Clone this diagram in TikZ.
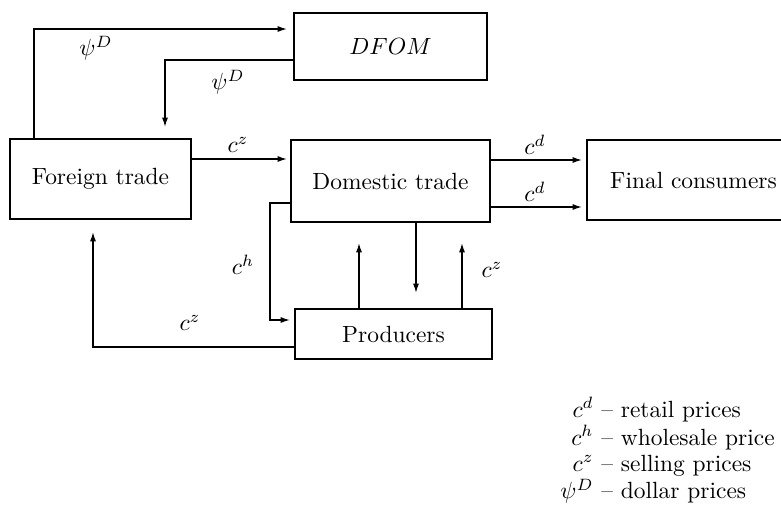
\documentclass[tikz,border=0pt]{standalone}
\usepackage{amsmath,amssymb}
\usetikzlibrary{arrows.meta,positioning,calc}
\tikzset{
  blockbox/.style={draw, line width=0.6pt, inner sep=0pt, outer sep=0pt, font=\normalsize},
  flow/.style={-{Latex[length=1.4mm,width=0.9mm]}, line width=0.6pt},
  lbl/.style={inner sep=1pt},
}

\begin{document}
\begin{tikzpicture}[x=0.015cm, y=-0.015cm]
  \path[use as bounding box, clip] (0,0) rectangle (781,523);

  \node[blockbox, minimum width=2.715cm, minimum height=1.2cm] (ft) at (100.5,179) {Foreign trade};
  \node[blockbox, minimum width=2.895cm, minimum height=1.005cm] (dfom) at (390.5,46.5) {$DFOM$};
  \node[blockbox, minimum width=2.985cm, minimum height=1.23cm] (dom) at (390.5,181) {Domestic trade};
  \node[blockbox, minimum width=3.195cm, minimum height=1.2cm] (fc) at (693.5,180) {Final consumers};
  \node[blockbox, minimum width=2.955cm, minimum height=0.75cm] (prod) at (393.5,334) {Producers};

  % dollar prices
  \draw[flow] ($(ft.north west)+(24,0)$) |- ($(dfom.north west)+(-7,16)$);
  \node[lbl] (psi1) at (96,48) {$\psi^D$};
  \draw[flow] ($(dfom.north west)+(0,47)$) -| ($(ft.north west)+(155,-12)$);
  \node[lbl] (psi2) at (228,82) {$\psi^D$};

  % trade flows
  \coordinate (ftout) at ($(ft.north east)+(0,20)$);
  \draw[flow, shorten >=0.06cm] (ftout) -- (ftout -| dom.west);
  \node[lbl] (cz1) at (238,145) {$c^z$};
  \draw[flow] ($(dom.north east)+(0,20)$) -- ($(fc.north west)+(-5,20)$);
  \node[lbl] (cd1) at (535,145) {$c^d$};
  \draw[flow] ($(dom.north east)+(0,67)$) -- ($(fc.north west)+(-5,67)$);
  \node[lbl] (cd2) at (535,192) {$c^d$};

  \draw[flow] ($(dom.north west)+(0,63)$) -- ++(-21,0) |- ($(prod.north west)+(-5,11)$);
  \node[lbl] (ch) at (243,265) {$c^h$};
  \draw[flow] ($(prod.north west)+(0,38)$) -| ($(ft.south west)+(83,13)$);
  \node[lbl] (cz2) at (190,323) {$c^z$};

  \draw[flow] ($(prod.north west)+(64,0)$) -- ++(0,-66);
  \draw[flow] ($(dom.south west)+(125,0)$) -- ++(0,71);
  \draw[flow] ($(prod.north west)+(167,0)$) -- ++(0,-66);
  \node[lbl] (cz3) at (492,270) {$c^z$};

  % legend
  \node[anchor=west, inner sep=0pt] (legend) at (560,452) {%
    \renewcommand{\arraystretch}{0.93}%
    \begin{tabular}{@{}r@{ -- }l@{}}
      $c^d$ & retail prices\\
      $c^h$ & wholesale price\\
      $c^z$ & selling prices\\
      $\psi^D$ & dollar prices
    \end{tabular}};
\end{tikzpicture}
\end{document}
